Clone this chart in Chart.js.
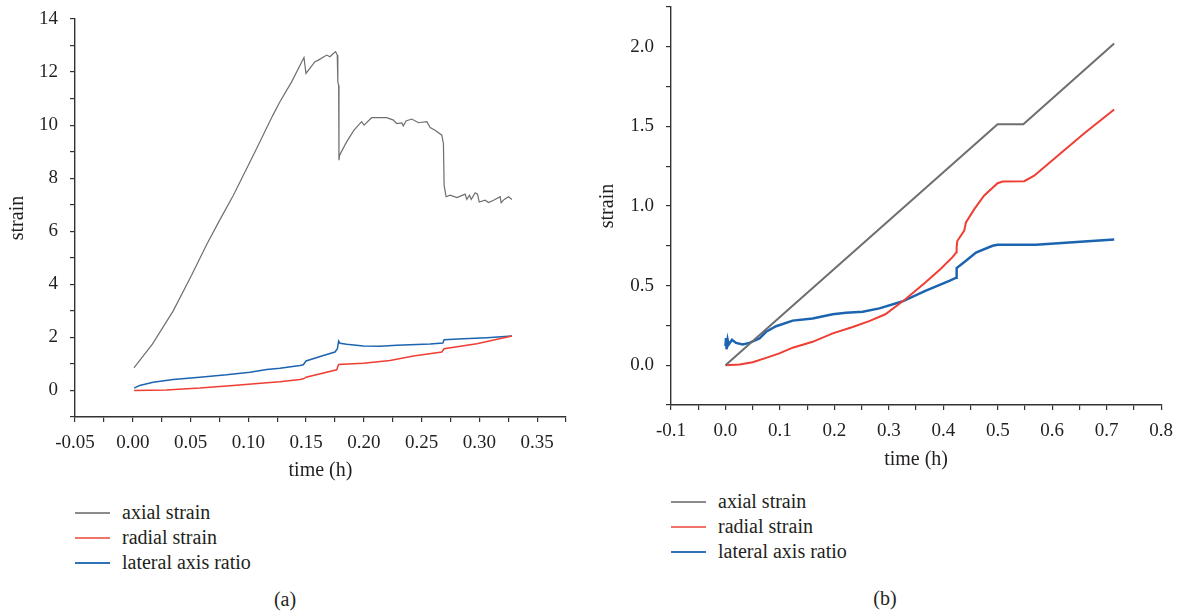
<!DOCTYPE html>
<html>
<head>
<meta charset="utf-8">
<script src="https://cdn.jsdelivr.net/npm/chart.js@4/dist/chart.umd.min.js"></script>
<style>
  html, body { margin: 0; padding: 0; background: #fff; }
  body { width: 1183px; height: 614px; position: relative; overflow: hidden; font-family: "Liberation Serif", serif; color: #231f20; }
  canvas { position: absolute; }
  .leg { position: absolute; font-size: 20px; line-height: 25px; }
  .leg div { position: relative; height: 25px; white-space: nowrap; }
  .leg span.ln { position: absolute; left: 0; top: 12px; width: 35px; height: 2px; }
  .leg span.tx { position: absolute; left: 47px; top: 0; }
  .cap { position: absolute; font-size: 20px; transform: translate(-50%, -50%); }
</style>
</head>
<body>
<canvas id="ca" width="590" height="483" style="left:0;top:0;width:590px;height:483px"></canvas>
<canvas id="cb" width="593" height="472" style="left:590px;top:0;width:593px;height:472px"></canvas>

<div class="leg" style="left:75px;top:500px">
  <div><span class="ln" style="background:#8c8c8e"></span><span class="tx">axial strain</span></div>
  <div><span class="ln" style="background:#f2736a"></span><span class="tx">radial strain</span></div>
  <div><span class="ln" style="background:#2f72b8"></span><span class="tx">lateral axis ratio</span></div>
</div>
<div class="leg" style="left:671px;top:489px">
  <div><span class="ln" style="background:#8c8c8e"></span><span class="tx">axial strain</span></div>
  <div><span class="ln" style="background:#f2736a"></span><span class="tx">radial strain</span></div>
  <div><span class="ln" style="background:#2f72b8"></span><span class="tx">lateral axis ratio</span></div>
</div>
<div class="cap" style="left:285px;top:599px">(a)</div>
<div class="cap" style="left:885px;top:598px">(b)</div>

<script>
// ---------- Panel (a) data ----------
const aAxialTime = [0.001, 0.017, 0.035, 0.051, 0.064, 0.075, 0.087, 0.107, 0.121, 0.1274, 0.1375, 0.1482, 0.1499, 0.1577, 0.1606, 0.1679, 0.1707, 0.1736, 0.1756, 0.177, 0.1775, 0.1782, 0.1785, 0.179, 0.1851, 0.1915, 0.1981, 0.2002, 0.2068, 0.2198, 0.2256, 0.2285, 0.2329, 0.2342, 0.2365, 0.2415, 0.2473, 0.2545, 0.2574, 0.2617, 0.2675, 0.2689, 0.2695, 0.2712, 0.2747, 0.2805, 0.2877, 0.2891, 0.2915, 0.293, 0.2964, 0.2984, 0.2999, 0.305, 0.3079, 0.3123, 0.318, 0.3189, 0.3215, 0.3253, 0.3282];
const aAxial = [0.85, 1.75, 3.0, 4.35, 5.5, 6.4, 7.35, 9.1, 10.35, 10.88, 11.63, 12.55, 11.95, 12.39, 12.45, 12.64, 12.58, 12.7, 12.77, 12.64, 11.63, 11.5, 8.68, 8.87, 9.37, 9.81, 10.13, 10.0, 10.28, 10.28, 10.19, 10.06, 10.08, 9.97, 10.16, 10.23, 10.09, 10.13, 9.91, 9.81, 9.62, 9.31, 7.74, 7.3, 7.36, 7.27, 7.4, 7.2, 7.36, 7.2, 7.45, 7.4, 7.1, 7.17, 7.08, 7.17, 7.3, 7.08, 7.2, 7.3, 7.2];

const aRadialTime = [0.0012, 0.029, 0.058, 0.087, 0.116, 0.1274, 0.1447, 0.1476, 0.15, 0.1765, 0.1782, 0.1996, 0.2227, 0.2429, 0.2675, 0.2695, 0.2978, 0.3282];
const aRadial = [0.0, 0.02, 0.09, 0.19, 0.29, 0.33, 0.41, 0.44, 0.5, 0.78, 0.98, 1.03, 1.13, 1.30, 1.45, 1.57, 1.76, 2.05];

const aLateralTime = [0.0012, 0.006, 0.0176, 0.035, 0.058, 0.0812, 0.1014, 0.116, 0.1274, 0.1447, 0.1476, 0.15, 0.165, 0.175, 0.1771, 0.1782, 0.1794, 0.1851, 0.1996, 0.214, 0.2285, 0.2574, 0.2684, 0.2695, 0.2862, 0.3065, 0.3282];
const aLateral = [0.09, 0.19, 0.31, 0.41, 0.5, 0.59, 0.69, 0.79, 0.84, 0.94, 0.97, 1.11, 1.32, 1.45, 1.57, 1.86, 1.78, 1.74, 1.68, 1.67, 1.70, 1.75, 1.79, 1.91, 1.95, 1.99, 2.05];

// ---------- Panel (b) data ----------
const bAxialTime = [0, 0.4997, 0.547, 0.7138];
const bAxial = [0, 1.513, 1.513, 2.02];

const bRadialTime = [0, 0.026, 0.05, 0.0746, 0.099, 0.1235, 0.16, 0.197, 0.2336, 0.264, 0.2936, 0.3303, 0.367, 0.3945, 0.4165, 0.4238, 0.4245, 0.4257, 0.4385, 0.4416, 0.4569, 0.4752, 0.4997, 0.5089, 0.5486, 0.567, 0.6128, 0.6618, 0.7138];
const bRadial = [0, 0.004, 0.019, 0.046, 0.074, 0.11, 0.147, 0.2, 0.24, 0.277, 0.32, 0.414, 0.519, 0.603, 0.677, 0.708, 0.74, 0.78, 0.845, 0.897, 0.98, 1.066, 1.143, 1.154, 1.156, 1.19, 1.324, 1.465, 1.606];

const bLateralTime = [0, 0.001, 0.002, 0.004, 0.006, 0.012, 0.0195, 0.0318, 0.044, 0.0624, 0.0746, 0.093, 0.1235, 0.16, 0.197, 0.2214, 0.252, 0.2826, 0.3243, 0.367, 0.411, 0.4238, 0.4245, 0.4416, 0.46, 0.4905, 0.4997, 0.57, 0.6312, 0.7138];
const bLateral = [0.12, 0.17, 0.1, 0.16, 0.13, 0.16, 0.14, 0.13, 0.14, 0.168, 0.21, 0.245, 0.28, 0.294, 0.32, 0.33, 0.336, 0.357, 0.40, 0.467, 0.53, 0.55, 0.61, 0.656, 0.708, 0.75, 0.757, 0.757, 0.771, 0.79];

const seriesNames = ['axial strain', 'radial strain', 'lateral axis ratio'];
const seriesColors = ['#6d6e71', '#ef3e33', '#1c64b0'];

// ---------- helpers ----------
const pts = (xs, ys) => xs.map((x, i) => ({ x: x, y: ys[i] }));
const FONT_FAMILY = '"Liberation Serif", "Times New Roman", serif';
const INK = '#231f20';

function fmt(v, step, dec) {
  let r = Math.round(v / step) * step;
  if (Math.abs(r) < 1e-9) r = 0;
  return r.toFixed(dec);
}

function makeScales(o) {
  return {
    x: {
      type: 'linear', min: o.xMin, max: o.xMax,
      afterFit: s => { s.height = o.xHeight; },
      border: { display: true, color: '#333', width: 1.4 },
      grid: { drawOnChartArea: false, drawTicks: true, tickLength: 5, color: '#333', lineWidth: 1.2 },
      ticks: {
        stepSize: o.xMinor, autoSkip: false, maxRotation: 0, minRotation: 0, padding: 10,
        color: INK, font: { family: FONT_FAMILY, size: 19 },
        callback: v => (Math.abs(Math.round(v / o.xMinor)) % 2 === 0 ? fmt(v, o.xMinor * 2, o.xDec) : '')
      },
      title: { display: true, text: 'time (h)', color: INK, font: { family: FONT_FAMILY, size: 20 }, padding: { top: 0, bottom: 0 } }
    },
    y: {
      type: 'linear', min: o.yMin, max: o.yMax,
      afterFit: s => { s.width = o.yWidth; s.paddingTop = 0; s.paddingBottom = 0; },
      border: { display: true, color: '#333', width: 1.4 },
      grid: { drawOnChartArea: false, drawTicks: true, tickLength: 5, color: '#333', lineWidth: 1.2 },
      ticks: {
        stepSize: o.yMinor, autoSkip: false, padding: 12,
        color: INK, font: { family: FONT_FAMILY, size: 19 },
        callback: v => (Math.abs(Math.round(v / o.yMinor)) % 2 === 0 ? fmt(v, o.yMinor * 2, o.yDec) : '')
      },
      title: { display: true, text: 'strain', color: INK, font: { family: FONT_FAMILY, size: 20 }, padding: { top: 6, bottom: 0 } }
    }
  };
}

function makeDatasets(list, widths) {
  return list.map((d, i) => ({
    label: seriesNames[i],
    data: pts(d[0], d[1]),
    showLine: true,
    borderColor: seriesColors[i],
    backgroundColor: seriesColors[i],
    borderWidth: widths[i],
    pointRadius: 0,
    tension: 0,
    fill: false
  }));
}

const common = {
  responsive: false,
  animation: false,
  plugins: { legend: { display: false }, tooltip: { enabled: false } }
};

new Chart(document.getElementById('ca'), {
  type: 'scatter',
  data: {
    datasets: makeDatasets([
      [aAxialTime, aAxial],
      [aRadialTime, aRadial],
      [aLateralTime, aLateral]
    ], [1.2, 1.5, 1.5])
  },
  options: Object.assign({}, common, {
    layout: { padding: { top: 19, right: 24, left: 0, bottom: 0 } },
    scales: makeScales({ xMin: -0.05, xMax: 0.375, xMinor: 0.025, xDec: 2, xHeight: 66,
                         yMin: -1, yMax: 14, yMinor: 1, yDec: 0, yWidth: 75 })
  })
});

new Chart(document.getElementById('cb'), {
  type: 'scatter',
  data: {
    datasets: makeDatasets([
      [bAxialTime, bAxial],
      [bRadialTime, bRadial],
      [bLateralTime, bLateral]
    ], [2, 2, 2.5])
  },
  options: Object.assign({}, common, {
    layout: { padding: { top: 7, right: 21, left: 0, bottom: 0 } },
    scales: makeScales({ xMin: -0.1, xMax: 0.8, xMinor: 0.05, xDec: 1, xHeight: 67,
                         yMin: -0.25, yMax: 2.25, yMinor: 0.25, yDec: 1, yWidth: 81 })
  })
});
</script>
</body>
</html>
